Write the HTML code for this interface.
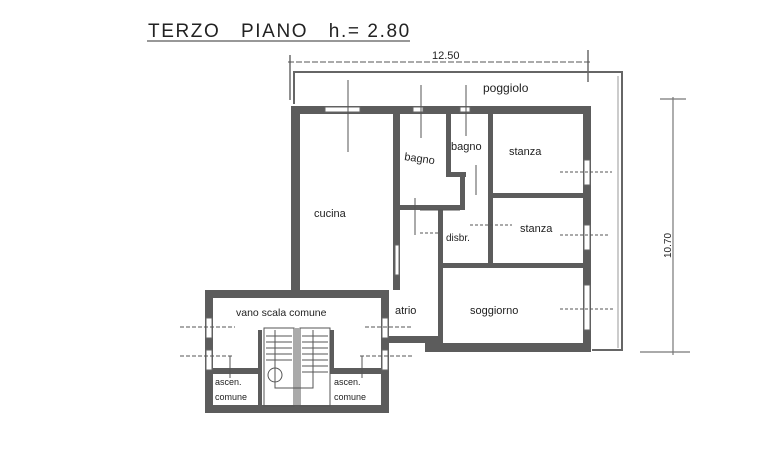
<!DOCTYPE html>
<html><head><meta charset="utf-8"><style>
html,body{margin:0;padding:0;background:#fff;}
svg{display:block;}
text{font-family:"Liberation Sans",sans-serif;fill:#222;}
</style></head><body>
<svg width="774" height="467" viewBox="0 0 774 467" xmlns="http://www.w3.org/2000/svg">
<rect width="774" height="467" fill="#fff"/>
<!-- title -->
<text x="148" y="37" font-size="19" letter-spacing="1.6" fill="#333" style="white-space:pre" xml:space="preserve">TERZO   PIANO   h.= 2.80</text>
<line x1="147" y1="41" x2="410" y2="41" stroke="#777" stroke-width="1.5"/>
<!-- dimension 12.50 -->
<line x1="288" y1="62" x2="590" y2="62" stroke="#777" stroke-width="1.2" stroke-dasharray="6,2"/>
<line x1="290" y1="55" x2="290" y2="100" stroke="#555" stroke-width="1.3"/>
<line x1="588" y1="50" x2="588" y2="82" stroke="#555" stroke-width="1.3"/>
<text x="432" y="59" font-size="11" fill="#444">12.50</text>
<!-- balcony outline -->
<polyline points="294,104 294,72 622,72 622,350 592,350" fill="none" stroke="#666" stroke-width="2"/>
<line x1="618" y1="76" x2="618" y2="348" stroke="#999" stroke-width="1"/>
<text x="483" y="92" font-size="12" fill="#333">poggiolo</text>
<!-- right dimension -->
<line x1="673" y1="97" x2="673" y2="355" stroke="#777" stroke-width="1.2"/>
<line x1="660" y1="99" x2="686" y2="99" stroke="#777" stroke-width="1.2"/>
<line x1="640" y1="352" x2="690" y2="352" stroke="#777" stroke-width="1.2"/>
<text x="0" y="0" font-size="10" fill="#444" transform="translate(671,258) rotate(-90)">10.70</text>
<g fill="#5c5c5c">
<rect x="291" y="106" width="300" height="8"/>
<rect x="291" y="106" width="9" height="186"/>
<rect x="583" y="106" width="8" height="245"/>
<rect x="393" y="110" width="7" height="180"/>
<rect x="446" y="110" width="5" height="65"/>
<rect x="446" y="172" width="20" height="5"/>
<rect x="460" y="172" width="5" height="35"/>
<rect x="400" y="205" width="65" height="5"/>
<rect x="488" y="110" width="5" height="158"/>
<rect x="488" y="193" width="95" height="5"/>
<rect x="438" y="205" width="5" height="140"/>
<rect x="438" y="263" width="145" height="5"/>
<rect x="427" y="343" width="164" height="9"/>
<rect x="385" y="336" width="55" height="7"/>
<rect x="425" y="336" width="5" height="16"/>
<rect x="205" y="290" width="184" height="8"/>
<rect x="205" y="290" width="8" height="122"/>
<rect x="381" y="290" width="8" height="122"/>
<rect x="205" y="405" width="184" height="8"/>
<rect x="205" y="368" width="57" height="6"/>
<rect x="330" y="368" width="55" height="6"/>
<rect x="258" y="330" width="4" height="76"/>
<rect x="330" y="330" width="4" height="40"/>
</g>
<g fill="#fff" stroke="#666" stroke-width="1">
<rect x="325" y="107" width="35" height="5"/>
<rect x="413" y="107" width="10" height="5"/>
<rect x="460" y="107" width="10" height="5"/>
<rect x="584" y="160" width="6" height="25"/>
<rect x="584" y="225" width="6" height="25"/>
<rect x="584" y="285" width="6" height="45"/>
<rect x="395" y="245" width="4" height="30"/>
<rect x="206" y="318" width="6" height="20"/>
<rect x="206" y="350" width="6" height="20"/>
<rect x="382" y="318" width="6" height="20"/>
<rect x="382" y="350" width="6" height="20"/>
</g>
<g stroke="#555" stroke-width="1" fill="none">
<rect x="264" y="328" width="30" height="78"/>
<rect x="300" y="328" width="30" height="78"/>
<line x1="296" y1="328" x2="296" y2="406"/><line x1="298" y1="328" x2="298" y2="406"/>
<path d="M266 336h26M266 342h26M266 348h26M266 354h26M266 360h26M302 336h26M302 342h26M302 348h26M302 354h26M302 360h26M302 366h26M302 372h26"/>
<circle cx="275" cy="375" r="7"/>
<polyline points="275,330 275,388 313,388 313,330"/>
</g>
<g stroke="#555" stroke-width="1">
<line x1="348" y1="80" x2="348" y2="152"/>
<line x1="421" y1="85" x2="421" y2="138"/>
<line x1="466" y1="85" x2="466" y2="136"/>
<line x1="476" y1="165" x2="476" y2="195"/>
<line x1="415" y1="198" x2="415" y2="235"/>
<line x1="420" y1="210" x2="460" y2="210"/>
<line x1="180" y1="327" x2="235" y2="327" stroke-dasharray="4,2"/>
<line x1="180" y1="356" x2="232" y2="356" stroke-dasharray="4,2"/>
<line x1="230" y1="356" x2="230" y2="378"/>
<line x1="365" y1="327" x2="412" y2="327" stroke-dasharray="4,2"/>
<line x1="360" y1="356" x2="412" y2="356" stroke-dasharray="4,2"/>
<line x1="362" y1="356" x2="362" y2="378"/>
<line x1="420" y1="233" x2="438" y2="233" stroke-dasharray="3,2"/>
<line x1="470" y1="225" x2="512" y2="225" stroke-dasharray="3,2"/>
<line x1="560" y1="235" x2="610" y2="235" stroke-dasharray="3,2"/>
<line x1="560" y1="309" x2="615" y2="309" stroke-dasharray="3,2"/>
<line x1="560" y1="172" x2="612" y2="172" stroke-dasharray="3,2"/>
</g>
<g font-size="11" fill="#333">
<text x="314" y="217">cucina</text>
<text x="404" y="160" transform="rotate(8 404 160)">bagno</text>
<text x="451" y="150">bagno</text>
<text x="509" y="155">stanza</text>
<text x="520" y="232">stanza</text>
<text x="446" y="241" font-size="10">disbr.</text>
<text x="395" y="314">atrio</text>
<text x="470" y="314">soggiorno</text>
<text x="236" y="316" font-size="10.5">vano scala comune</text>
<text x="215" y="385" font-size="9">ascen.</text>
<text x="215" y="400" font-size="9">comune</text>
<text x="334" y="385" font-size="9">ascen.</text>
<text x="334" y="400" font-size="9">comune</text>
</g>
</svg>
</body></html>
